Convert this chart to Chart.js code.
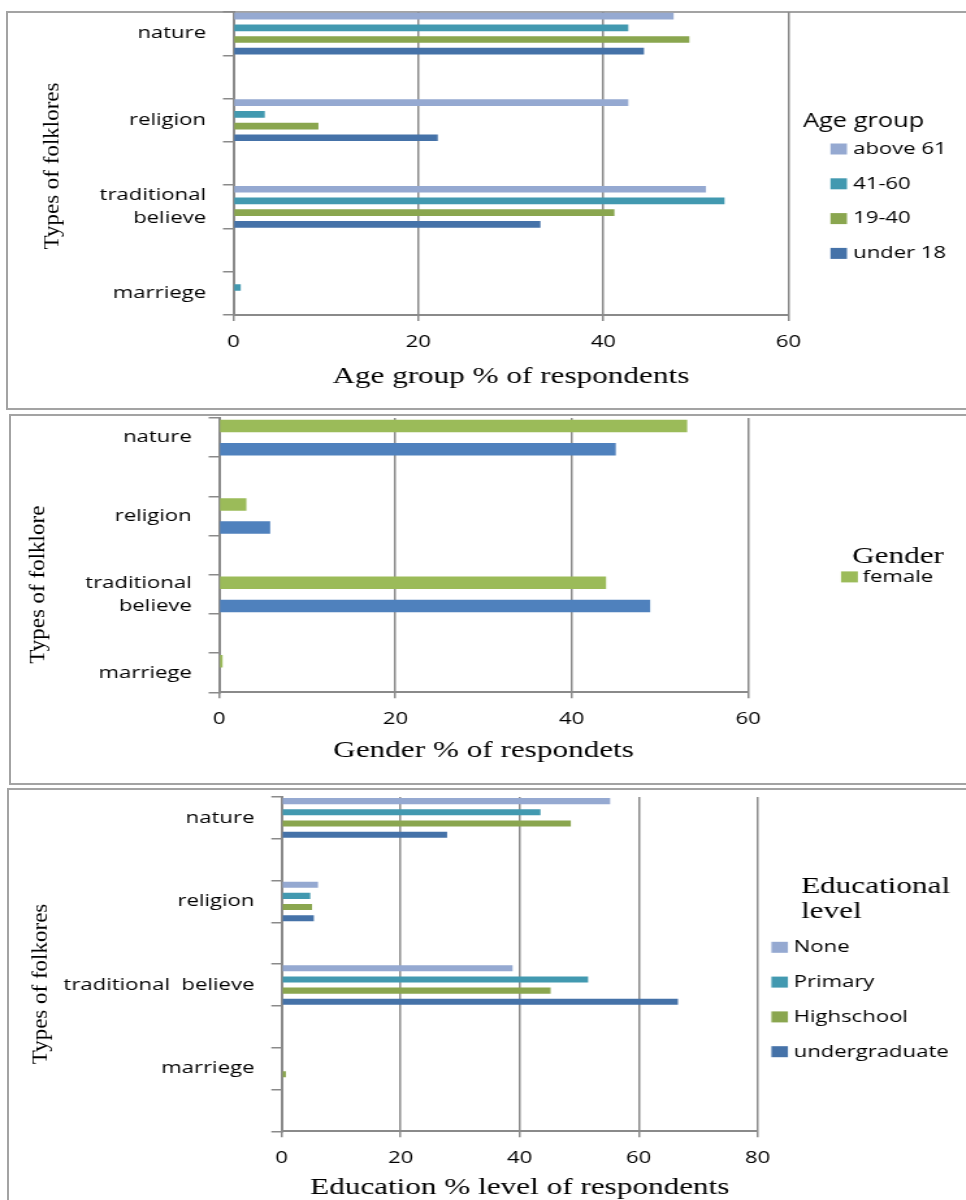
<!DOCTYPE html>
<html><head><meta charset="utf-8">
<script src="https://cdn.jsdelivr.net/npm/chart.js@4.4.1/dist/chart.umd.min.js"></script>
<style>
html,body{margin:0;padding:0;background:#fff;width:966px;height:1200px;overflow:hidden;position:relative;}
.box{position:absolute;border:2px solid #a3a3a3;border-right:none;box-sizing:border-box;}
.wrap{position:absolute;left:0;width:743px;transform:scaleX(1.3);transform-origin:0 0;}
canvas{display:block;}
</style></head><body>
<div class="box" style="left:6px;top:11px;width:980px;height:399px"></div>
<div class="box" style="left:9px;top:414px;width:980px;height:371px"></div>
<div class="box" style="left:7px;top:788px;width:980px;height:430px"></div>
<div class="wrap" style="top:10px;height:381px"><canvas id="c1"></canvas></div>
<div class="wrap" style="top:416.3px;height:349px"><canvas id="c2"></canvas></div>
<div class="wrap" style="top:795px;height:407px"><canvas id="c3"></canvas></div>
<script>
// ---- data ----
const folkloreTypes = ['nature', '', 'religion', '', ['traditional', 'believe'], '', 'marriege'];
const ageAbove61 = [47.6, null, 42.7, null, 51.1, null, 0];
const age41to60  = [42.7, null, 3.4, null, 53.1, null, 0.8];
const age19to40  = [49.3, null, 9.2, null, 41.2, null, 0];
const ageUnder18 = [44.4, null, 22.1, null, 33.2, null, 0];
const ageTicks = [0, 20, 40, 60];

const genderTypes = ['nature', '', 'religion', '', ['traditional', 'believe'], '', 'marriege'];
const genderFemale = [53.1, null, 3.1, null, 43.9, null, 0.4];
const genderMale   = [45.0, null, 5.8, null, 48.9, null, 0];
const genderTicks = [0, 20, 40, 60];

const eduTypes = ['nature', '', 'religion', '', 'traditional  believe', '', 'marriege', ''];
const eduNone       = [55.2, null, 6.1, null, 38.8, null, 0, null];
const eduPrimary    = [43.5, null, 4.8, null, 51.5, null, 0, null];
const eduHighschool = [48.6, null, 5.1, null, 45.2, null, 0.7, null];
const eduUndergrad  = [27.8, null, 5.4, null, 66.6, null, 0, null];
const eduTicks = [0, 20, 40, 60, 80];

// ---- plugins ----
const SX = 1.3;
const sideLegend = {
  id: 'sideLegend',
  afterDraw(chart, args, o) {
    const ctx = chart.ctx;
    ctx.save();
    ctx.textBaseline = 'middle';
    ctx.textAlign = 'left';
    ctx.fillStyle = '#000';
    ctx.font = o.titleFont;
    o.titleLines.forEach((t, i) => ctx.fillText(t, o.titleX, o.titleY + i * o.titleGap));
    ctx.font = o.itemFont;
    o.items.forEach((idx, i) => {
      const ds = chart.data.datasets[idx];
      const y = o.itemY + i * o.itemGap;
      ctx.fillStyle = ds.backgroundColor;
      ctx.fillRect(o.boxX, y - o.boxH / 2, o.boxW, o.boxH);
      ctx.fillStyle = '#000';
      ctx.fillText(ds.label, o.textX, y);
    });
    ctx.restore();
  }
};
const yTitle = {
  id: 'yTitle',
  afterDraw(chart, args, o) {
    const ctx = chart.ctx;
    ctx.save();
    ctx.translate(o.x, o.y);
    ctx.rotate(-Math.PI / 2);
    ctx.scale(1, 1 / SX);
    ctx.font = o.font;
    ctx.fillStyle = '#000';
    ctx.textAlign = 'center';
    ctx.textBaseline = 'middle';
    ctx.fillText(o.text, 0, 0);
    ctx.restore();
  }
};

Chart.defaults.font.family = 'Open Sans';
const GRID = '#8a8a8a';

function makeChart(id, p) {
  return new Chart(document.getElementById(id), {
    type: 'bar',
    data: { labels: p.labels, datasets: p.datasets },
    plugins: [sideLegend, yTitle],
    options: {
      indexAxis: 'y',
      responsive: true,
      maintainAspectRatio: false,
      animation: false,
      layout: { padding: { left: 0, right: p.padRight, top: 2, bottom: 0 } },
      datasets: { bar: { categoryPercentage: p.catPct, barPercentage: p.barPct, borderWidth: 0 } },
      plugins: {
        legend: { display: false },
        tooltip: { enabled: false },
        sideLegend: p.legend,
        yTitle: p.yTitle
      },
      scales: {
        x: {
          min: p.ticks[0], max: p.ticks[p.ticks.length - 1],
          afterBuildTicks: s => { s.ticks = p.ticks.map(v => ({ value: v })); },
          ticks: { color: '#000', font: { size: 17 }, padding: 10.5 },
          grid: { color: GRID, lineWidth: 1.5, tickLength: 6 },
          border: { color: GRID, width: 2 },
          title: { display: true, text: p.xTitle, color: '#000',
                   font: { family: 'Liberation Serif', size: 24 }, padding: { top: 0, bottom: 0 } },
          afterFit: s => { s.height = p.xH; s.paddingLeft = 0; s.paddingRight = 0; }
        },
        y: {
          ticks: { color: '#000', font: { size: 17, lineHeight: 1.35 }, padding: 13, autoSkip: false },
          grid: { offset: true, drawOnChartArea: false, tickLength: 8, color: GRID, lineWidth: 1.5 },
          border: { color: GRID, width: 2 },
          afterFit: s => { s.width = p.yW; s.paddingTop = 0; s.paddingBottom = 0; }
        }
      }
    }
  });
}

makeChart('c1', {
  labels: folkloreTypes,
  datasets: [
    { label: 'above 61', data: ageAbove61, backgroundColor: '#95A9D1' },
    { label: '41-60', data: age41to60, backgroundColor: '#4299B0' },
    { label: '19-40', data: age19to40, backgroundColor: '#8AA64F' },
    { label: 'under 18', data: ageUnder18, backgroundColor: '#4572A8' }
  ],
  ticks: ageTicks, xTitle: 'Age group % of respondents',
  padRight: 136.6, yW: 179.5, xH: 76, catPct: 1.08, barPct: 0.57,
  yTitle: { text: 'Types of folklores', x: 40, y: 156, font: '23px "Liberation Serif"' },
  legend: { titleLines: ['Age group'], titleFont: '19.5px "Open Sans"', titleX: 617.7, titleY: 111.7, titleGap: 0,
            items: [0, 1, 2, 3], itemFont: '17px "Open Sans"', boxX: 638.8, boxW: 12.7, boxH: 11,
            textX: 656.2, itemY: 139, itemGap: 34.8 }
});

makeChart('c2', {
  labels: genderTypes,
  datasets: [
    { label: 'female', data: genderFemale, backgroundColor: '#9BBB59' },
    { label: 'male', data: genderMale, backgroundColor: '#4F81BD' }
  ],
  ticks: genderTicks, xTitle: 'Gender % of respondets',
  padRight: 167.6, yW: 168.5, xH: 72.7, catPct: 1.18, barPct: 0.54,
  yTitle: { text: 'Types of folklore', x: 29.6, y: 168.7, font: '23px "Liberation Serif"' },
  legend: { titleLines: ['Gender'], titleFont: '24px "Liberation Serif"', titleX: 655.4, titleY: 140.4, titleGap: 0,
            items: [0], itemFont: '17px "Open Sans"', boxX: 646.9, boxW: 13, boxH: 11,
            textX: 663.5, itemY: 160.9, itemGap: 34.8 }
});

makeChart('c3', {
  labels: eduTypes,
  datasets: [
    { label: 'None', data: eduNone, backgroundColor: '#95A9D1' },
    { label: 'Primary', data: eduPrimary, backgroundColor: '#4299B0' },
    { label: 'Highschool', data: eduHighschool, backgroundColor: '#8AA64F' },
    { label: 'undergraduate', data: eduUndergrad, backgroundColor: '#4572A8' }
  ],
  ticks: eduTicks, xTitle: 'Education % level of respondents',
  padRight: 160.2, yW: 216.7, xH: 70.7, catPct: 1.07, barPct: 0.54,
  yTitle: { text: 'Types of folkores', x: 31.5, y: 189, font: '23px "Liberation Serif"' },
  legend: { titleLines: ['Educational', 'level'], titleFont: '24px "Liberation Serif"', titleX: 616.2, titleY: 91.7, titleGap: 25,
            items: [0, 1, 2, 3], itemFont: '17px "Open Sans"', boxX: 593.4, boxW: 12.7, boxH: 11,
            textX: 610.5, itemY: 152.3, itemGap: 34.8 }
});
</script>
</body></html>
